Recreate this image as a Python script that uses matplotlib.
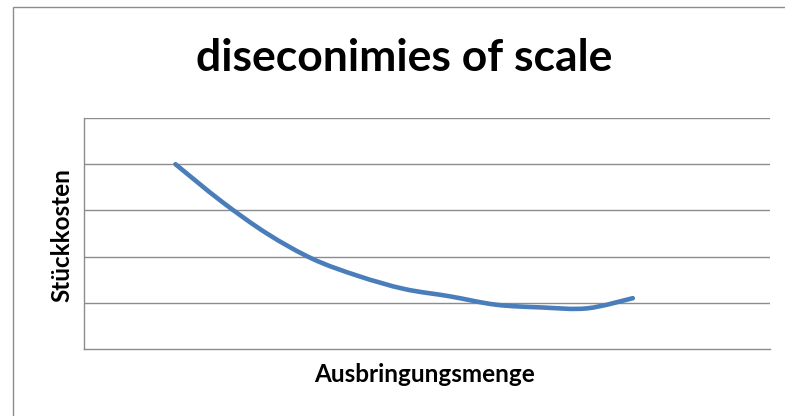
import matplotlib.pyplot as plt
from matplotlib.path import Path
from matplotlib.patches import PathPatch, Rectangle

plt.rcParams['font.family'] = ['Lato', 'DejaVu Sans']

# data
menge = [2, 3, 4, 5, 6, 7, 8, 9, 10, 11, 12]
kosten = [4.0, 3.2, 2.5, 1.95, 1.58, 1.3, 1.14, 0.96, 0.9, 0.88, 1.1]

title = 'diseconimies of scale'
xlabel = 'Ausbringungsmenge'
ylabel = 'Stückkosten'

fig = plt.figure(figsize=(7.85, 4.16), dpi=100)

# outer chart frame (only left and top visible in the crop)
fig.patches.append(Rectangle((12.5 / 785, -0.2), 1.2, (416 - 7.5) / 416 + 0.2,
                             transform=fig.transFigure, fill=False,
                             edgecolor='#8c8c8c', linewidth=1.0))

ax = fig.add_axes([84 / 785, (416 - 349) / 416, (770 - 84) / 785, (349 - 118) / 416])

# smoothed line like excel (catmull-rom -> cubic bezier)
pts = list(zip(menge, kosten))
verts = [pts[0]]
codes = [Path.MOVETO]
for i in range(len(pts) - 1):
    p0 = pts[i - 1] if i > 0 else pts[i]
    p1 = pts[i]
    p2 = pts[i + 1]
    p3 = pts[i + 2] if i + 2 < len(pts) else pts[i + 1]
    c1 = (p1[0] + (p2[0] - p0[0]) / 6, p1[1] + (p2[1] - p0[1]) / 6)
    c2 = (p2[0] - (p3[0] - p1[0]) / 6, p2[1] - (p3[1] - p1[1]) / 6)
    verts += [c1, c2, p2]
    codes += [Path.CURVE4] * 3
ax.add_patch(PathPatch(Path(verts, codes), fill=False, edgecolor='#4a7ebb',
                       linewidth=3.3, capstyle='round', joinstyle='round', zorder=3))

ax.set_xlim(0, 15)
ax.set_ylim(0, 5)
ax.set_yticks([1, 2, 3, 4, 5])
ax.set_xticks([])
ax.tick_params(left=False, labelleft=False)
ax.grid(True, axis='y', color='#8c8c8c', linewidth=1.0)
ax.set_axisbelow(True)
for s in ['top', 'right']:
    ax.spines[s].set_visible(False)
for s in ['left', 'bottom']:
    ax.spines[s].set_color('#8c8c8c')
    ax.spines[s].set_linewidth(1.0)

fig.text(404 / 785, 1 - 58 / 416, title, ha='center', va='center',
         fontsize=32, fontweight='bold')
fig.text(425 / 785, 1 - 374 / 416, xlabel, ha='center', va='center',
         fontsize=17.5, fontweight='bold')
fig.text(62 / 785, 1 - 235 / 416, ylabel, ha='center', va='center',
         rotation=90, fontsize=17.5, fontweight='bold')

fig.savefig('out.png', dpi=100)
